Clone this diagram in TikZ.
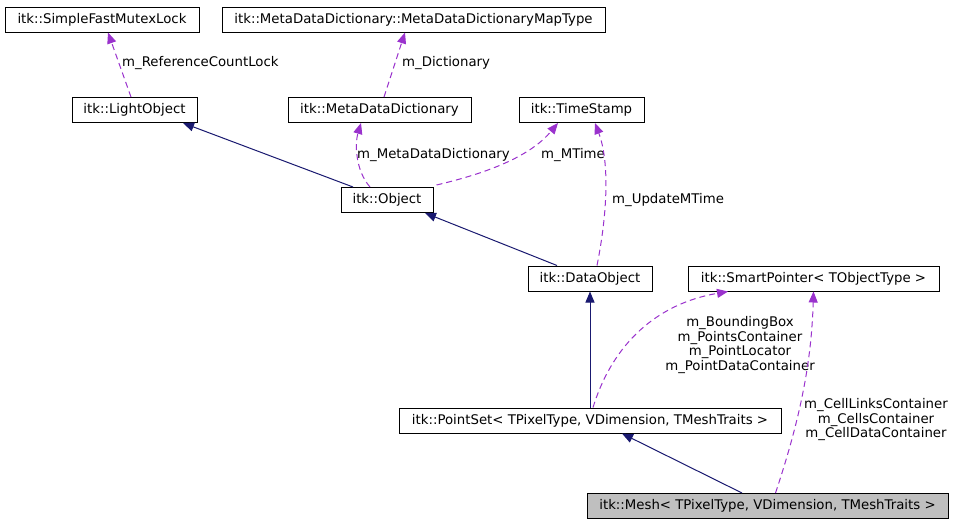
\documentclass[tikz,border=0pt]{standalone}
\usepackage{fontspec}
\setmainfont{DejaVu Sans}
\usetikzlibrary{arrows.meta}
\definecolor{edgep}{HTML}{9A32CD}
\definecolor{navyb}{HTML}{191970}
\definecolor{meshgray}{HTML}{BFBFBF}
\begin{document}
\begin{tikzpicture}[x=1pt,y=-1pt,
 cls/.style={draw=black, line width=1pt, fill=white, minimum height=25pt, inner sep=0pt, font=\fontsize{13.3}{15}\selectfont},
 inh/.style={navyb, line width=1pt, -{Triangle[length=11pt,width=9pt]}},
 use/.style={edgep, line width=1pt, dash pattern=on 6pt off 4pt, -{Triangle[length=11pt,width=9pt]}},
 lab/.style={font=\fontsize{13.3}{14.5}\selectfont, inner sep=0pt, align=center}]
\useasboundingbox (0,0) rectangle (980,525);
\fill[white] (0,0) rectangle (980,525);
% nodes
\node[cls, minimum width=194pt] (smfl) at (102,19.5) {itk::SimpleFastMutexLock};
\node[cls, minimum width=383pt] (mapt) at (413.5,19.5) {itk::MetaDataDictionary::MetaDataDictionaryMapType};
\node[cls, minimum width=125pt] (light) at (134.5,110) {itk::LightObject};
\node[cls, minimum width=183pt] (mdd) at (379.5,110) {itk::MetaDataDictionary};
\node[cls, minimum width=125pt] (ts) at (581.5,110) {itk::TimeStamp};
\node[cls, minimum width=92pt] (obj) at (387,200) {itk::Object};
\node[cls, minimum width=124pt] (dobj) at (590,278.5) {itk::DataObject};
\node[cls, minimum width=251pt] (sp) at (813.5,278.5) {itk::SmartPointer< TObjectType >};
\node[cls, minimum width=382pt] (ps) at (590,420.5) {itk::PointSet< TPixelType, VDimension, TMeshTraits >};
\node[cls, minimum width=361pt, fill=meshgray] (mesh) at (767.5,506) {itk::Mesh< TPixelType, VDimension, TMeshTraits >};
% edges
\draw[use] ([xshift=-3.5pt]light.north) -- ([xshift=6pt]smfl.south);
\node[lab, anchor=west] (l1) at (122,63) {m\_ReferenceCountLock};
\draw[use] ([xshift=4.5pt]mdd.north) -- ([xshift=-8.5pt]mapt.south);
\node[lab, anchor=west] (l2) at (402,63) {m\_Dictionary};
\draw[inh] ([xshift=-34pt]obj.north) -- ([xshift=48.5pt]light.south);
\draw[use] ([xshift=-17pt]obj.north) .. controls +(-15,-17) and +(-6,20) .. ([xshift=-18.5pt]mdd.south);
\node[lab, anchor=west] (l3) at (357,155) {m\_MetaDataDictionary};
\draw[use] ([xshift=3pt,yshift=2pt]obj.north east) .. controls +(60,-14) and +(-25,30) .. ([xshift=-23.5pt]ts.south);
\node[lab, anchor=west] (l4) at (541,155) {m\_MTime};
\draw[inh] ([xshift=-33pt]dobj.north) -- ([xshift=38pt]obj.south);
\draw[use] ([xshift=7pt]dobj.north) .. controls +(10,-50) and +(15,40) .. ([xshift=13.5pt]ts.south);
\node[lab, anchor=west] (l5) at (612,200) {m\_UpdateMTime};
\draw[inh] (ps.north) -- (dobj.south);
\draw[use] ([xshift=3pt]ps.north) .. controls +(20,-65) and +(-70,12) .. ([xshift=-85.5pt]sp.south);
\node[lab] (l6) at (740,345) {m\_BoundingBox\\m\_PointsContainer\\m\_PointLocator\\m\_PointDataContainer};
\draw[inh] ([xshift=-25.5pt]mesh.north) -- ([xshift=32pt]ps.south);
\draw[use] ([xshift=8pt]mesh.north) .. controls +(25,-75) and +(-2,70) .. (sp.south);
\node[lab] (l7) at (876,420) {m\_CellLinksContainer\\m\_CellsContainer\\m\_CellDataContainer};
\end{tikzpicture}
\end{document}
